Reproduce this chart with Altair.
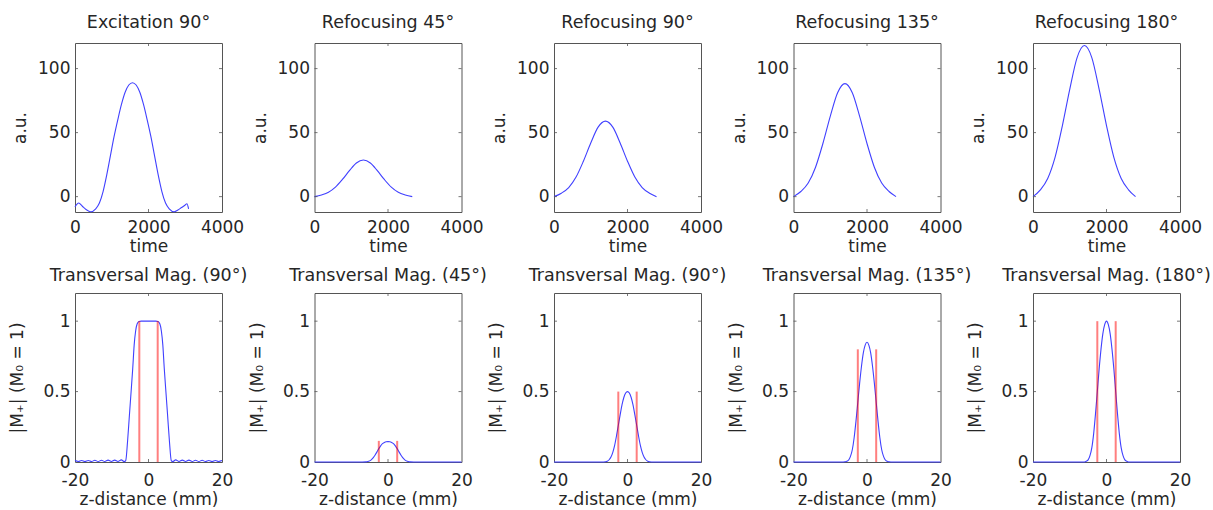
import altair as alt
import pandas as pd

FONT = "DejaVu Sans"
INK = "#262626"
BLUE = "#4040ff"
RED = "#ff0000"
FRAME = "#555555"
W, H = 147, 169

# ---- RF pulse envelopes (a.u. versus time) ----
exc_t = [0, 100, 200, 300, 427, 564, 664, 764, 864, 964, 1064, 1164, 1264, 1364,
         1464, 1564, 1664, 1764, 1864, 1964, 2064, 2164, 2264, 2364, 2464, 2564,
         2700, 2800, 2900, 3000, 3045, 3091]
exc_v = [-8, -5, -7.5, -10, -11.8, -9.5, -5, 4, 17, 32, 47, 60, 72, 81.5,
         87.2, 89, 87.2, 81.5, 72, 60, 47, 32, 17, 4, -5, -9.5,
         -11.8, -10.5, -8.5, -6.5, -5.5, -9.5]

ref45_t = [0, 190, 380, 570, 760, 950, 1140, 1330, 1520, 1710, 1900, 2090, 2280, 2470, 2660]
ref45_v = [0, 1.3, 3.4, 7.4, 13.4, 20.3, 26.3, 28.6, 26.3, 20.3, 13.4, 7.4, 3.4, 1.3, 0]

ref_t = [0, 200, 400, 600, 800, 1000, 1200, 1400, 1600, 1800, 2000, 2200, 2400, 2600, 2790]
ref90_v = [0, 2.7, 7.1, 15.3, 27.7, 41.9, 54.3, 59, 54.3, 41.9, 27.7, 15.3, 7.1, 2.7, 0]
ref135_v = [0, 4.0, 10.6, 23.0, 41.5, 62.7, 81.2, 88.3, 81.2, 62.7, 41.5, 23.0, 10.6, 4.0, 0]
ref180_v = [0, 5.3, 14.2, 30.7, 55.5, 83.8, 108.6, 118, 108.6, 83.8, 55.5, 30.7, 14.2, 5.3, 0]

# ---- slice profiles |M+| versus z (mm) ----
exc_prof_z = [-20, -19.1, -18.2, -17.3, -16.4, -15.5, -14.6, -13.7, -12.8, -11.9, -11.0,
              -10.1, -9.2, -8.3, -7.4, -6.6, -6.2, -5.7, -5.2, -4.8, -4.3, -3.9, -3.5,
              -3.1, -2.6, -2.0, 0, 2.0, 2.6, 3.1, 3.5, 3.9, 4.3, 4.8, 5.2, 5.7, 6.2,
              6.6, 7.4, 8.3, 9.2, 10.1, 11.0, 11.9, 12.8, 13.7, 14.6, 15.5, 16.4,
              17.3, 18.2, 19.1, 20]
exc_prof_m = [0.01, 0.004, 0.011, 0.004, 0.011, 0.004, 0.012, 0.004, 0.012, 0.004, 0.013,
              0.004, 0.013, 0.004, 0.015, 0.003, 0.01, 0.146, 0.33, 0.476, 0.66, 0.83, 0.93,
              0.98, 0.997, 1.0, 1.0, 1.0, 0.997, 0.98, 0.93, 0.83, 0.66, 0.476, 0.33, 0.146, 0.01,
              0.003, 0.015, 0.004, 0.013, 0.004, 0.013, 0.004, 0.012, 0.004, 0.012, 0.004, 0.011,
              0.004, 0.011, 0.004, 0.01]

prof_z = [-20, -7, -6, -5.5, -5, -4.5, -4, -3.5, -3, -2.5, -2, -1.5, -1, -0.5, 0,
          0.5, 1, 1.5, 2, 2.5, 3, 3.5, 4, 4.5, 5, 5.5, 6, 7, 20]
prof45_m = [0, 0, 0.001, 0.003, 0.008, 0.017, 0.031, 0.05, 0.072, 0.095, 0.115, 0.13, 0.139, 0.144, 0.145,
            0.144, 0.139, 0.13, 0.115, 0.095, 0.072, 0.05, 0.031, 0.017, 0.008, 0.003, 0.001, 0, 0]
prof90_m = [0, 0, 0.002, 0.006, 0.016, 0.035, 0.068, 0.118, 0.185, 0.26, 0.335, 0.405, 0.458, 0.49, 0.5,
            0.49, 0.458, 0.405, 0.335, 0.26, 0.185, 0.118, 0.068, 0.035, 0.016, 0.006, 0.002, 0, 0]
prof135_m = [0, 0, 0.002, 0.005, 0.014, 0.04, 0.087, 0.172, 0.29, 0.425, 0.56, 0.68, 0.775, 0.83, 0.85,
             0.83, 0.775, 0.68, 0.56, 0.425, 0.29, 0.172, 0.087, 0.04, 0.014, 0.005, 0.002, 0, 0]
prof180_m = [0, 0, 0, 0.005, 0.015, 0.045, 0.1, 0.2, 0.34, 0.5, 0.66, 0.8, 0.91, 0.975, 1.0,
             0.975, 0.91, 0.8, 0.66, 0.5, 0.34, 0.2, 0.1, 0.045, 0.015, 0.005, 0, 0, 0]

# nominal slice edges and their marker heights
slice_edges = [-2.5, 2.5]
edge_heights = [1.0, 0.15, 0.5, 0.8, 1.0]

top_titles = ["Excitation 90°", "Refocusing 45°", "Refocusing 90°",
              "Refocusing 135°", "Refocusing 180°"]
bottom_titles = ["Transversal Mag. (90°)", "Transversal Mag. (45°)", "Transversal Mag. (90°)",
                 "Transversal Mag. (135°)", "Transversal Mag. (180°)"]

pulses = [(exc_t, exc_v), (ref45_t, ref45_v), (ref_t, ref90_v), (ref_t, ref135_v), (ref_t, ref180_v)]
profiles = [(exc_prof_z, exc_prof_m), (prof_z, prof45_m), (prof_z, prof90_m),
            (prof_z, prof135_m), (prof_z, prof180_m)]

LABEL = "'' + datum.value"


def axis(values, title, label_pad, title_pad):
    return alt.Axis(values=values, title=title, ticks=False, domain=False, grid=False,
                    labelExpr=LABEL, labelFont=FONT, labelFontSize=17, labelColor=INK,
                    labelPadding=label_pad, labelFlush=False, labelOverlap=False,
                    titleFont=FONT, titleFontSize=17, titleColor=INK,
                    titleFontWeight="normal", titlePadding=title_pad)


def inner_ticks(xch, ych, field, xvals, yvals):
    """Short inward tick marks on all four sides of the frame."""
    xd = pd.DataFrame({field[0]: xvals})
    yd = pd.DataFrame({field[1]: yvals})
    rule = dict(color=FRAME, strokeWidth=0.8)
    return [
        alt.Chart(xd).mark_rule(**rule).encode(x=xch, y=alt.value(H), y2=alt.value(H - 3)),
        alt.Chart(xd).mark_rule(**rule).encode(x=xch, y=alt.value(0), y2=alt.value(3)),
        alt.Chart(yd).mark_rule(**rule).encode(y=ych, x=alt.value(0), x2=alt.value(3)),
        alt.Chart(yd).mark_rule(**rule).encode(y=ych, x=alt.value(W), x2=alt.value(W - 3)),
    ]


def title(text, offset):
    return alt.TitleParams(text, font=FONT, fontSize=17.5, fontWeight="normal", color=INK,
                           anchor="middle", baseline="alphabetic", offset=offset)


FRAME_VIEW = alt.ViewBackground(stroke=FRAME, strokeWidth=1, fill="white")


def pulse_panel(i):
    t, v = pulses[i]
    df = pd.DataFrame({"t": t, "v": v})
    xch = alt.X("t:Q", scale=alt.Scale(domain=[0, 4000], nice=False, zero=False),
                axis=axis([0, 2000, 4000], "time", 7, 3))
    ych = alt.Y("v:Q", scale=alt.Scale(domain=[-12, 120], nice=False, zero=False),
                axis=axis([0, 50, 100], "a.u.", 5, 8))
    line = alt.Chart(df).mark_line(color=BLUE, strokeWidth=1.1, interpolate="monotone").encode(x=xch, y=ych)
    layers = [line] + inner_ticks(xch, ych, ("t", "v"), [2000], [0, 50, 100])
    return alt.layer(*layers).properties(width=W, height=H, view=FRAME_VIEW,
                                         title=title(top_titles[i], -2.5))


def profile_panel(i):
    z, m = profiles[i]
    df = pd.DataFrame({"z": z, "m": m})
    edges = pd.DataFrame({"z": slice_edges, "m": [edge_heights[i]] * 2, "base": [0, 0]})
    xch = alt.X("z:Q", scale=alt.Scale(domain=[-20, 20], nice=False, zero=False),
                axis=axis([-20, 0, 20], "z-distance (mm)", 10, 3))
    ych = alt.Y("m:Q", scale=alt.Scale(domain=[0, 1.2], nice=False, zero=False),
                axis=axis([0, 0.5, 1], "|M₊| (M₀ = 1)", 5, 16))
    line = alt.Chart(df).mark_line(color=BLUE, strokeWidth=1.1, interpolate="monotone").encode(x=xch, y=ych)
    red = alt.Chart(edges).mark_rule(color=RED, strokeWidth=2, opacity=0.5).encode(
        x=xch, y=ych, y2=alt.Y2("base:Q"))
    layers = [line, red] + inner_ticks(xch, ych, ("z", "m"), [0], [0.5, 1])
    return alt.layer(*layers).properties(width=W, height=H, view=FRAME_VIEW,
                                         title=title(bottom_titles[i], -6))


panels = [pulse_panel(i) for i in range(5)] + [profile_panel(i) for i in range(5)]

chart = alt.ConcatChart(
    concat=panels, columns=5, bounds="flush",
    spacing={"row": 81, "column": 92.5},
).properties(
    padding={"left": 8, "top": 13, "right": 0, "bottom": 0},
    background="white",
).configure_view(stroke=FRAME, strokeWidth=1)

chart.save("out.html", embed_options={"renderer": "svg", "actions": False})
